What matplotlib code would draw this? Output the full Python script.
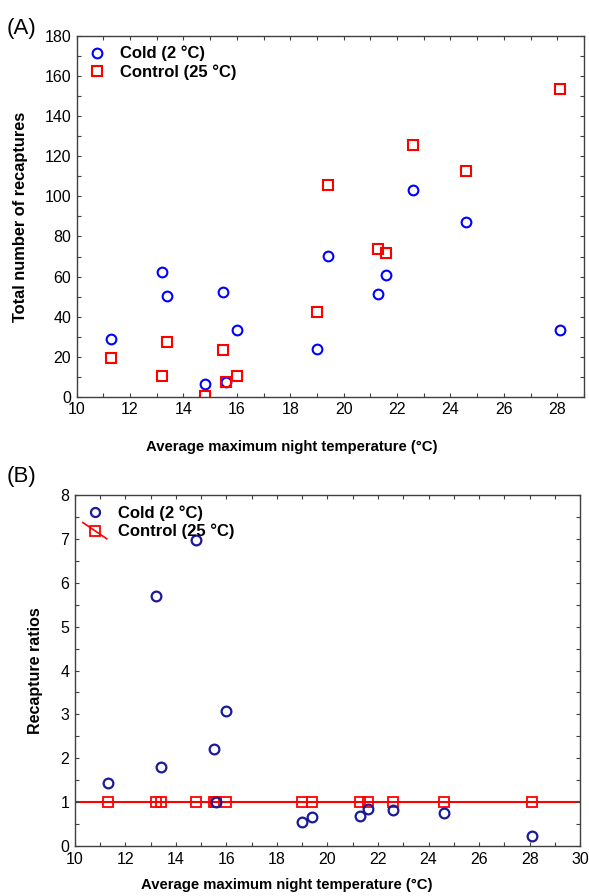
import numpy as np
import matplotlib
matplotlib.use("Agg")
import matplotlib.pyplot as plt
from matplotlib.lines import Line2D
from matplotlib.legend_handler import HandlerBase
from matplotlib.ticker import MultipleLocator

plt.rcParams['font.family'] = ['Liberation Sans', 'DejaVu Sans']

# night temperatures (same for both groups)
temp = [11.3, 13.2, 13.4, 14.8, 15.5, 15.6, 16.0, 19.0, 19.4, 21.3, 21.6, 22.6, 24.6, 28.1]
cold_recap = [29, 62.5, 50.5, 6.5, 52.5, 7.5, 33.5, 24, 70.5, 51.5, 61, 103, 87, 33.5]
control_recap = [19.5, 10.5, 27.5, 0.7, 23.5, 7.5, 10.5, 42.5, 105.5, 73.5, 71.5, 125.5, 112.5, 153.5]
cold_ratio = [1.43, 5.71, 1.80, 6.97, 2.20, 1.0, 3.07, 0.55, 0.67, 0.69, 0.84, 0.81, 0.76, 0.22]
control_ratio = [1] * len(temp)

xlabel = "Average maximum night temperature (°C)"
spine_col = '#404040'
FS_TICK = 11.5
FS_XLAB = 10.7
FS_YLAB = 11.8
FS_LEG = 12


class DiagHandler(HandlerBase):
    # statistica-style legend key: square with slanted line through it
    def create_artists(self, legend, orig, xd, yd, w, h, fontsize, trans):
        ln = Line2D([xd - 0.1 * w, xd + 1.1 * w], [yd + 1.2 * h, yd - 0.2 * h],
                    color='red', lw=1.2, transform=trans)
        mk = Line2D([xd + w / 2], [yd + h / 2], marker='s', ms=7.5, mfc='none',
                    mec='red', mew=1.3, ls='none', transform=trans)
        return [ln, mk]


def style(ax):
    for s in ax.spines.values():
        s.set_color(spine_col)
        s.set_linewidth(1.0)
    ax.tick_params(which='both', direction='in', top=True, right=True,
                   length=3, width=0.8, color=spine_col, labelsize=FS_TICK,
                   pad=3)
    ax.tick_params(which='major', pad=4)


fig = plt.figure(figsize=(5.89, 8.96), dpi=100)

# ---- panel A
ax1 = fig.add_axes([0.130, 0.557, 0.8615, 0.403])
ax1.plot(temp, cold_recap, 'o', ms=7, mfc='none', mec='#0000ff', mew=1.5,
         label='Cold (2 °C)')
ax1.plot(temp, control_recap, 's', ms=7.5, mfc='none', mec='#ff0000', mew=1.5,
         label='Control (25 °C)')
ax1.set_xlim(10, 29)
ax1.set_ylim(0, 180)
ax1.xaxis.set_major_locator(MultipleLocator(2))
ax1.xaxis.set_minor_locator(MultipleLocator(1))
ax1.yaxis.set_major_locator(MultipleLocator(20))
ax1.yaxis.set_minor_locator(MultipleLocator(10))
style(ax1)
ax1.set_xlabel(xlabel, fontsize=FS_XLAB, fontweight='bold')
ax1.xaxis.set_label_coords(0.424, -0.12)
ax1.set_ylabel('Total number of recaptures', fontsize=FS_YLAB, fontweight='bold')
ax1.yaxis.set_label_coords(-0.096, 0.5)
ax1.legend(loc='upper left', frameon=False,
           prop={'weight': 'bold', 'size': FS_LEG}, handlelength=1.2,
           handletextpad=0.8, borderaxespad=0.2, labelspacing=0.2)
fig.text(0.012, 0.962, '(A)', fontsize=16)

# ---- panel B
ax2 = fig.add_axes([0.127, 0.0558, 0.858, 0.3917])
ax2.axhline(1, color='#ff0000', lw=1.5, zorder=1)
ax2.plot(temp, control_ratio, 's', ms=7.5, mfc='none', mec='#ff0000', mew=1.3, zorder=2)
ax2.plot(temp, cold_ratio, 'o', ms=7, mfc='none', mec='#1a1a9a', mew=1.6, zorder=3)
ax2.set_xlim(10, 30)
ax2.set_ylim(0, 8)
ax2.xaxis.set_major_locator(MultipleLocator(2))
ax2.xaxis.set_minor_locator(MultipleLocator(1))
ax2.yaxis.set_major_locator(MultipleLocator(1))
ax2.yaxis.set_minor_locator(MultipleLocator(0.5))
style(ax2)
ax2.set_xlabel(xlabel, fontsize=FS_XLAB, fontweight='bold')
ax2.xaxis.set_label_coords(0.42, -0.09)
ax2.set_ylabel('Recapture ratios', fontsize=11.5, fontweight='bold')
ax2.yaxis.set_label_coords(-0.063, 0.5)
h_cold = Line2D([], [], marker='o', ms=6.5, mfc='none', mec='#1a1a9a', mew=1.6, ls='none')
h_ctrl = Line2D([], [], color='red')
ax2.legend([h_cold, h_ctrl], ['Cold (2 °C)', 'Control (25 °C)'],
           handler_map={h_ctrl: DiagHandler()}, loc='upper left', frameon=False,
           prop={'weight': 'bold', 'size': FS_LEG}, handlelength=1.2,
           handletextpad=0.8, borderaxespad=0.2, labelspacing=0.2)
fig.text(0.012, 0.462, '(B)', fontsize=16)

fig.savefig('out.png', dpi=100)
